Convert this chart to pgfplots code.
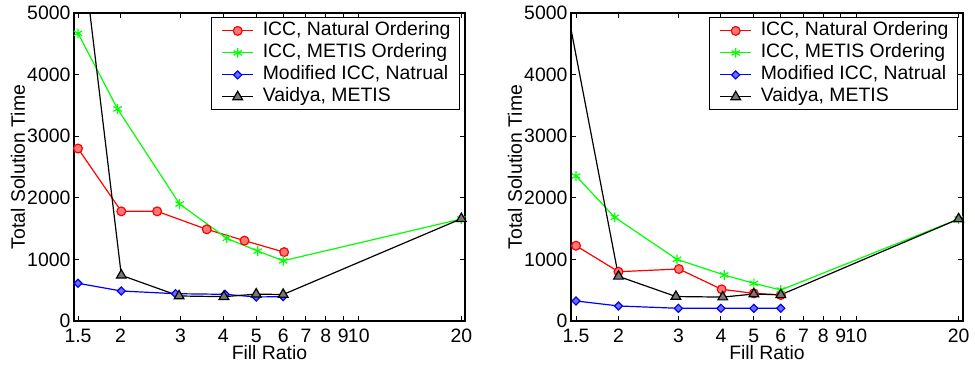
\documentclass[border=0pt]{standalone}
\usepackage{fontspec}
\setmainfont{Liberation Sans}
\usepackage{pgfplots}
\pgfplotsset{compat=1.18}
\definecolor{mred}{RGB}{255,0,0}
\definecolor{mredfill}{RGB}{250,120,120}
\definecolor{mgreen}{RGB}{0,255,0}
\definecolor{mblue}{RGB}{0,0,255}
\definecolor{mbluefill}{RGB}{110,110,255}
\definecolor{mgray}{RGB}{120,120,120}
\tikzset{
  sred/.style={color=mred, line width=0.6pt, mark=*, mark size=2.2pt, mark options={fill=mredfill, draw=mred}},
  sgreen/.style={color=mgreen, line width=0.6pt, mark=asterisk, mark size=2.4pt},
  sblue/.style={color=mblue, line width=0.6pt, mark=diamond*, mark size=2pt, mark options={fill=mbluefill, draw=mblue, xscale=1.35}},
  sblack/.style={color=black, line width=0.6pt, mark=triangle*, mark size=2.8pt, mark options={fill=mgray, draw=black}},
}
\pgfplotsset{
  legend image code/.code={%
    \path (-1.6pt,0pt);
    \draw[mark repeat=2,mark phase=2,#1] plot coordinates {(0pt,0pt) (7.75pt,0pt) (15.5pt,0pt)};},
}
\begin{document}
\begin{tikzpicture}
\useasboundingbox (0,0) rectangle (487.5pt,184pt);
\begin{axis}[at={(37pt,23.5pt)}, width=195.5pt, xmin=1.46, xmax=20.5,
    scale only axis, height=154pt, anchor=south west,
    xmode=log, ymin=0, ymax=5000,
    xtick={1.5,2,3,4,5,6,7,8,9,10,20},
    xticklabels={1.5,2,3,4,5,6,7,8,9,10,20},
    minor xtick={},
    ytick={0,1000,2000,3000,4000,5000},
    yticklabels={0,1000,2000,3000,4000,5000},
    tick align=inside, major tick length=2.5pt,
    xtick pos=both, ytick pos=both,
    axis line style={line width=0.6pt},
    every tick/.style={black, line width=0.5pt},
    font=\fontsize{9.7}{11.6}\selectfont,
    xticklabel style={anchor=base, inner sep=0pt, yshift=-10.6pt},
    yticklabel style={anchor=east, inner sep=0pt, xshift=-1.6pt},
    xlabel={Fill Ratio}, ylabel={Total Solution Time},
    xlabel style={at={(axis description cs:0.5,0)}, anchor=base, yshift=-19.2pt, inner sep=0pt},
    ylabel style={at={(axis description cs:-0.1432,0.5)}, anchor=center, inner sep=0pt},
    legend cell align=left,
    legend style={at={(1,1)}, anchor=north east, xshift=-2.5pt, yshift=-2.15pt,
      draw=black, line width=0.6pt, inner xsep=3.5pt, inner ysep=1pt,
      row sep=0pt, font=\fontsize{9.7}{11.6}\selectfont,
      nodes={inner sep=1pt, text height=7pt, text depth=2pt},
      /tikz/every odd column/.append style={column sep=3.5pt}},
]
\addplot[sred] coordinates {(1.5,2800) (2.01,1780) (2.56,1780) (3.58,1488) (4.62,1304) (6.04,1118)};
\addlegendentry{ICC, Natural Ordering}
\addplot[sgreen] coordinates {(1.5,4670) (1.96,3442) (2.98,1899) (4.1,1342) (5.05,1136) (6.0,978) (20,1656)};
\addlegendentry{ICC, METIS Ordering}
\addplot[sblue] coordinates {(1.5,612) (2.01,487) (2.9,443) (4.05,433) (5.0,390) (6.0,395)};
\addlegendentry{Modified ICC, Natrual}
\addplot[sblack] coordinates {(1.4,8000) (2.01,742) (2.97,406) (4.02,395) (5.0,436) (6.0,430) (20,1660)};
\addlegendentry{Vaidya, METIS}
\end{axis}
\begin{axis}[at={(285.5pt,23.5pt)}, width=196pt, xmin=1.45, xmax=20.6,
    scale only axis, height=154pt, anchor=south west,
    xmode=log, ymin=0, ymax=5000,
    xtick={1.5,2,3,4,5,6,7,8,9,10,20},
    xticklabels={1.5,2,3,4,5,6,7,8,9,10,20},
    minor xtick={},
    ytick={0,1000,2000,3000,4000,5000},
    yticklabels={0,1000,2000,3000,4000,5000},
    tick align=inside, major tick length=2.5pt,
    xtick pos=both, ytick pos=both,
    axis line style={line width=0.6pt},
    every tick/.style={black, line width=0.5pt},
    font=\fontsize{9.7}{11.6}\selectfont,
    xticklabel style={anchor=base, inner sep=0pt, yshift=-10.6pt},
    yticklabel style={anchor=east, inner sep=0pt, xshift=-1.6pt},
    xlabel={Fill Ratio}, ylabel={Total Solution Time},
    xlabel style={at={(axis description cs:0.5,0)}, anchor=base, yshift=-19.2pt, inner sep=0pt},
    ylabel style={at={(axis description cs:-0.1429,0.5)}, anchor=center, inner sep=0pt},
    legend cell align=left,
    legend style={at={(1,1)}, anchor=north east, xshift=-2.5pt, yshift=-2.15pt,
      draw=black, line width=0.6pt, inner xsep=3.5pt, inner ysep=1pt,
      row sep=0pt, font=\fontsize{9.7}{11.6}\selectfont,
      nodes={inner sep=1pt, text height=7pt, text depth=2pt},
      /tikz/every odd column/.append style={column sep=3.5pt}},
]
\addplot[sred] coordinates {(1.5,1222) (2.0,800) (3.01,844) (4.02,514) (5.0,449) (6.0,422)};
\addlegendentry{ICC, Natural Ordering}
\addplot[sgreen] coordinates {(1.5,2354) (1.95,1683) (2.97,1001) (4.09,747) (5.0,612) (6.0,503) (20,1656)};
\addlegendentry{ICC, METIS Ordering}
\addplot[sblue] coordinates {(1.5,325) (2.0,244) (3.0,206) (4.0,206) (5.0,206) (6.0,206)};
\addlegendentry{Modified ICC, Natrual}
\addplot[sblack] coordinates {(1.4,5174) (2.0,725) (2.95,397) (4.05,388) (5.0,438) (6.0,425) (20,1656)};
\addlegendentry{Vaidya, METIS}
\end{axis}
\end{tikzpicture}
\end{document}
